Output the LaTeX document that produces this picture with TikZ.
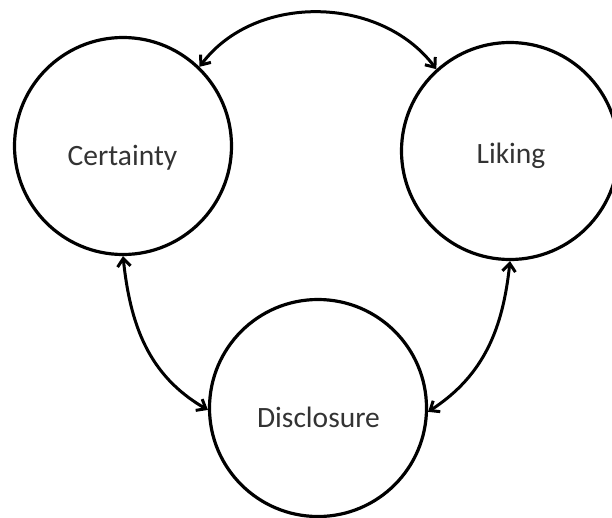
\documentclass[tikz,border=0pt]{standalone}
\usepackage{fontspec}
\setmainfont{Carlito}
\usetikzlibrary{arrows.meta}
\begin{document}
\begin{tikzpicture}[x=1pt,y=-1pt,
  bubble/.style={draw=black, line width=3.2pt, circle, minimum size=217pt, inner sep=0pt},
  caption/.style={anchor=base, text=black!80, font=\fontsize{29.5}{34}\selectfont},
  link/.style={line width=3pt, {Straight Barb[length=8pt,width=13pt]}-{Straight Barb[length=8pt,width=13pt]}}]
  \useasboundingbox (0,0) rectangle (612,517);

  % the three constructs
  \node[bubble] (C) at (123,146) {};
  \node[bubble] (L) at (510,151) {};
  \node[bubble] (D) at (318,408) {};

  \node[caption] (Ct) at (122.5,165) {Certainty};
  \node[caption] (Lt) at (511,163) {Liking};
  \node[caption] (Dt) at (318.5,427) {Disclosure};

  % mutual influences
  \draw[link] (C.46) to[out=53,in=127] (L.132);
  \draw[link] (C.-90) to[out=-84,in=150] (D.181);
  \draw[link] (L.-90) to[out=-96,in=33] (D.-2);
\end{tikzpicture}
\end{document}
